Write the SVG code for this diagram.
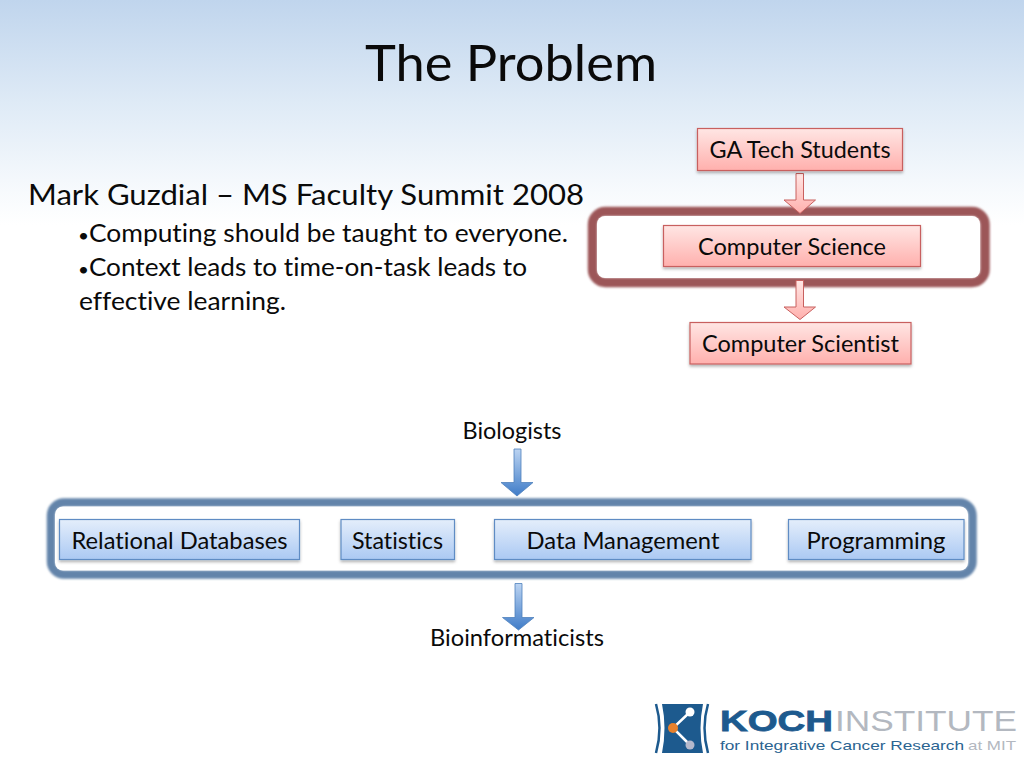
<svg xmlns="http://www.w3.org/2000/svg" width="1024" height="768" viewBox="0 0 1024 768">
<style>
text{font-family:Lato,"Open Sans",sans-serif;fill:#0a0a0a;font-variant-ligatures:none}
.l{font-size:23.5px}
.c{text-anchor:middle}
.b{font-size:18px}
.red{fill:url(#rg);stroke:#c8605f;stroke-width:1.2;filter:url(#sh)}
.blue{fill:url(#bg);stroke:#5f8cc4;stroke-width:1.2;filter:url(#sh)}
.ra{fill:url(#rg);stroke:#c8605f;stroke-width:1}
.ba{fill:url(#ba);stroke:#4f81bd;stroke-width:.8}
.lg{font-family:"Liberation Sans",sans-serif}
</style>
<defs>
<linearGradient id="bk" x1="0" y1="0" x2="0" y2="1"><stop offset="0" stop-color="#c0d5ed"/><stop offset=".45" stop-color="#deeaf6"/><stop offset=".85" stop-color="#f7fafd"/><stop offset="1" stop-color="#fff"/></linearGradient>
<linearGradient id="rg" x1="0" y1="0" x2="0" y2="1"><stop offset="0" stop-color="#ffe6e4"/><stop offset="1" stop-color="#ffb0ad"/></linearGradient>
<linearGradient id="bg" x1="0" y1="0" x2="0" y2="1"><stop offset="0" stop-color="#e4eefb"/><stop offset="1" stop-color="#abc9f3"/></linearGradient>
<linearGradient id="ba" x1="0" y1="0" x2="0" y2="1"><stop offset="0" stop-color="#bcd4f2"/><stop offset="1" stop-color="#3f7cc8"/></linearGradient>
<filter id="sh" x="-10%" y="-20%" width="120%" height="150%"><feDropShadow dx="0" dy="2" stdDeviation="1.5" flood-color="#000" flood-opacity=".3"/></filter>
<filter id="bl" x="-5%" y="-20%" width="110%" height="140%"><feGaussianBlur stdDeviation="1.1"/></filter>
</defs>
<rect id="background" width="1024" height="768" fill="#fff"/>
<rect width="1024" height="225" fill="url(#bk)"/>
<text id="title" x="511" y="81" class="c" font-size="50" textLength="292" lengthAdjust="spacingAndGlyphs">The Problem</text>
<g id="body">
<text x="28" y="205" font-size="29" textLength="556" lengthAdjust="spacingAndGlyphs">Mark Guzdial – MS Faculty Summit 2008</text>
<text x="78" y="242" font-size="25" textLength="490" lengthAdjust="spacingAndGlyphs"><tspan class="b">•</tspan>Computing should be taught to everyone.</text>
<text x="78" y="276" font-size="25" textLength="449" lengthAdjust="spacingAndGlyphs"><tspan class="b">•</tspan>Context leads to time-on-task leads to</text>
<text x="79" y="310" font-size="25" textLength="207" lengthAdjust="spacingAndGlyphs">effective learning.</text>
</g>
<g id="containers">
<g id="cs-frame"><rect x="592.500" y="211.500" width="392.500" height="71" rx="13" fill="none" stroke="#9c5658" stroke-width="9.500" filter="url(#bl)"/><rect x="597" y="216" width="383" height="62" rx="8" fill="#fff"/></g>
<g id="bio-frame"><rect x="51" y="502.500" width="921.500" height="72" rx="13" fill="none" stroke="#6384aa" stroke-width="8.500" filter="url(#bl)"/><rect x="55" y="506.500" width="913" height="64" rx="8" fill="#fff"/></g>
</g>
<g id="connectors">
<path class="ra" d="M796 173.500h7.500v26.500h12l-15.500 13.500-16-13.500h12z"/>
<path class="ra" d="M796 280.500h7.500v26.500h12l-15.500 12.500-16-12.500h12z"/>
<path class="ba" d="M514 449h7v33.500h12l-16 13.500-16-13.500h13z"/>
<path class="ba" d="M515 583.500h7v34h12l-15.500 12.500-16-12.500h12.500z"/>
</g>
<g id="n-ga"><rect class="red" x="697.500" y="128.500" width="205" height="42"/><text class="l c" x="800" y="158" textLength="181" lengthAdjust="spacingAndGlyphs">GA Tech Students</text></g>
<g id="n-cs"><rect class="red" x="663.500" y="225.500" width="257" height="41"/><text class="l c" x="792" y="255" textLength="188" lengthAdjust="spacingAndGlyphs">Computer Science</text></g>
<g id="n-sci"><rect class="red" x="690" y="322.500" width="221" height="41.500"/><text class="l c" x="800.500" y="352" textLength="197" lengthAdjust="spacingAndGlyphs">Computer Scientist</text></g>
<g id="n-bio"><text class="l c" x="512" y="439" textLength="99" lengthAdjust="spacingAndGlyphs">Biologists</text></g>
<g id="n-rd"><rect class="blue" x="59.500" y="519.500" width="240" height="40"/><text class="l c" x="179.500" y="549" textLength="216" lengthAdjust="spacingAndGlyphs">Relational Databases</text></g>
<g id="n-st"><rect class="blue" x="341" y="519.500" width="113.500" height="40"/><text class="l c" x="397.500" y="549" textLength="91" lengthAdjust="spacingAndGlyphs">Statistics</text></g>
<g id="n-dm"><rect class="blue" x="494.500" y="519.500" width="256.500" height="40"/><text class="l c" x="623" y="549" textLength="193" lengthAdjust="spacingAndGlyphs">Data Management</text></g>
<g id="n-pr"><rect class="blue" x="788.500" y="519.500" width="175.500" height="40"/><text class="l c" x="876" y="549" textLength="139" lengthAdjust="spacingAndGlyphs">Programming</text></g>
<g id="n-bi"><text class="l c" x="517" y="646" textLength="174" lengthAdjust="spacingAndGlyphs">Bioinformaticists</text></g>
<g id="logo">
<path d="M662 704h41q-5 24 0 49h-41q5-25 0-49z" fill="#1d5a8e"/>
<path d="M656 704q7 24 0 49M708 704q-7 24 0 49" fill="none" stroke="#1d5a8e" stroke-width="2.500"/>
<path d="M690 712l-17 16 17 17" fill="none" stroke="#fff" stroke-width="2.500"/>
<circle cx="690" cy="712" r="4.500" fill="#fff"/><circle cx="673" cy="728" r="5" fill="#e8812c"/><circle cx="690" cy="745" r="4.500" fill="#b5b9cc"/>
<text class="lg" x="720" y="731" font-weight="700" font-size="30" style="fill:#1d5a8e;stroke:#1d5a8e;stroke-width:.8" textLength="113" lengthAdjust="spacingAndGlyphs">KOCH</text>
<text class="lg" x="835" y="731" font-size="30" style="fill:#b3b8c0" textLength="182" lengthAdjust="spacingAndGlyphs">INSTITUTE</text>
<text class="lg" x="720" y="750" font-size="13" style="fill:#2b6491" textLength="244" lengthAdjust="spacingAndGlyphs">for Integrative Cancer Research</text>
<text class="lg" x="968" y="750" font-size="13" style="fill:#b3b8c0" textLength="48" lengthAdjust="spacingAndGlyphs">at MIT</text>
</g>
</svg>
